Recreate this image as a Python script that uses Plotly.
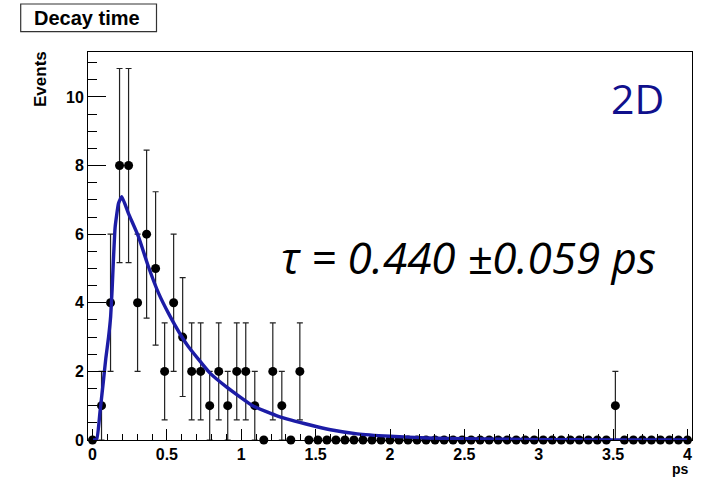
import numpy as np
import plotly.graph_objects as go

# ---- data ----
n_bins = 67
x_first_center = 0.0
x_last_center = 4.0
counts = [0, 1, 4, 8, 8, 4, 6, 5, 2, 4, 3, 2, 2, 1, 2, 1, 2, 2, 1, 0,
          2, 1, 0, 2, 0, 0, 0, 0, 0, 0, 0, 0, 0, 0, 0, 0, 0, 0, 0, 0,
          0, 0, 0, 0, 0, 0, 0, 0, 0, 0, 0, 0, 0, 0, 0, 0, 0, 0, 1, 0,
          0, 0, 0, 0, 0, 0, 0]

fit_x = [0.0, 0.028, 0.05, 0.074, 0.09, 0.108, 0.122, 0.132, 0.14, 0.152, 0.175,
         0.197, 0.242, 0.309, 0.376, 0.444, 0.511, 0.6, 0.645, 0.79, 0.9,
         1.08, 1.25, 1.47, 1.6, 1.78, 2.0, 2.25, 2.5, 3.0, 3.5, 4.0]
fit_y = [0.0, 0.02, 0.8, 1.75, 2.4, 3.0, 3.6, 4.4, 5.2, 6.2, 6.9,
         7.09, 6.6, 5.93, 5.05, 4.28, 3.69, 3.01, 2.72, 1.95, 1.55,
         0.99, 0.69, 0.43, 0.30, 0.18, 0.11, 0.06, 0.035, 0.012, 0.004, 0.0015]

x_tickvals = [0, 0.5, 1, 1.5, 2, 2.5, 3, 3.5, 4]
x_ticktext = ["0", "0.5", "1", "1.5", "2", "2.5", "3", "3.5", "4"]
y_tickvals = [0, 2, 4, 6, 8, 10]
y_ticktext = ["0", "2", "4", "6", "8", "10"]

title_text = "Decay time"
y_title = "Events"
x_title = "ps"
label_2d = "2D"
tau_text = "τ = 0.440 ±0.059 ps"

# ---- derived ----
centers = np.linspace(x_first_center, x_last_center, n_bins)
half_w = (x_last_center - x_first_center) / (n_bins - 1) / 2.0
errors = np.sqrt(np.array(counts, dtype=float))

fig = go.Figure()
fig.add_trace(go.Scatter(
    x=centers, y=counts, mode="markers",
    marker=dict(color="black", size=9),
    error_y=dict(type="data", array=errors, visible=True,
                 color="#222222", thickness=1.2, width=3),
    cliponaxis=False, showlegend=False,
))
fig.add_trace(go.Scatter(
    x=fit_x, y=fit_y, mode="lines",
    line=dict(color="#1c1ca6", width=3.4, shape="spline", smoothing=0.4),
    cliponaxis=False, showlegend=False,
))

tickfont = dict(family="Liberation Sans", size=16, color="black", weight="bold")

fig.update_xaxes(
    range=[x_first_center - half_w, x_last_center + half_w],
    tickvals=x_tickvals, ticktext=x_ticktext,
    ticks="inside", ticklen=11, tickwidth=1, tickcolor="black",
    minor=dict(ticks="inside", dtick=0.1, ticklen=6, tickcolor="black", tickwidth=1),
    showline=True, linecolor="black", linewidth=1, mirror=True,
    showgrid=False, zeroline=False, tickfont=tickfont,
)
fig.update_yaxes(
    range=[0, 11.31],
    tickvals=y_tickvals, ticktext=y_ticktext,
    ticks="inside", ticklen=18, tickwidth=1, tickcolor="black",
    minor=dict(ticks="inside", dtick=0.5, ticklen=9, tickcolor="black", tickwidth=1),
    showline=True, linecolor="black", linewidth=1, mirror=True,
    showgrid=False, zeroline=False, tickfont=tickfont,
)

fig.update_layout(
    width=702, height=477,
    margin=dict(l=88, r=10, t=52, b=37),
    plot_bgcolor="white", paper_bgcolor="white",
    shapes=[
        dict(type="rect", xref="paper", yref="paper",
             x0=(20.7 - 88) / 604, x1=(156.5 - 88) / 604,
             y0=(440 - 31.7) / 388, y1=(440 - 4) / 388,
             line=dict(color="#333333", width=1.2), fillcolor="white", layer="below"),
    ],
    annotations=[
        dict(text=title_text, xref="paper", yref="paper",
             x=(87 - 88) / 604, y=(440 - 18) / 388, xanchor="center", yanchor="middle",
             showarrow=False,
             font=dict(family="Liberation Sans", size=20, color="black", weight="bold")),
        dict(text=y_title, xref="paper", yref="paper",
             x=(41 - 88) / 604, y=(440 - 79) / 388, xanchor="center", yanchor="middle",
             textangle=-90, showarrow=False,
             font=dict(family="Liberation Sans", size=17, color="black", weight="bold")),
        dict(text=x_title, xref="paper", yref="paper",
             x=(691 - 88) / 604, y=(440 - 469) / 388, xanchor="right", yanchor="middle",
             showarrow=False,
             font=dict(family="Liberation Sans", size=14, color="black", weight="bold")),
        dict(text=label_2d, xref="paper", yref="paper",
             x=(637.5 - 88) / 604, y=(440 - 98) / 388, xanchor="center", yanchor="middle",
             showarrow=False,
             font=dict(family="Open Sans", size=41, color="#10108c")),
        dict(text="<i>" + tau_text + "</i>", xref="paper", yref="paper",
             x=(469 - 88) / 604, y=(440 - 257) / 388, xanchor="center", yanchor="middle",
             showarrow=False,
             font=dict(family="Open Sans", size=44, color="black")),
    ],
)

fig.write_html("out.html",
               config={"displayModeBar": False},
               post_script="document.body.style.margin='0px';document.body.style.overflow='hidden';")
